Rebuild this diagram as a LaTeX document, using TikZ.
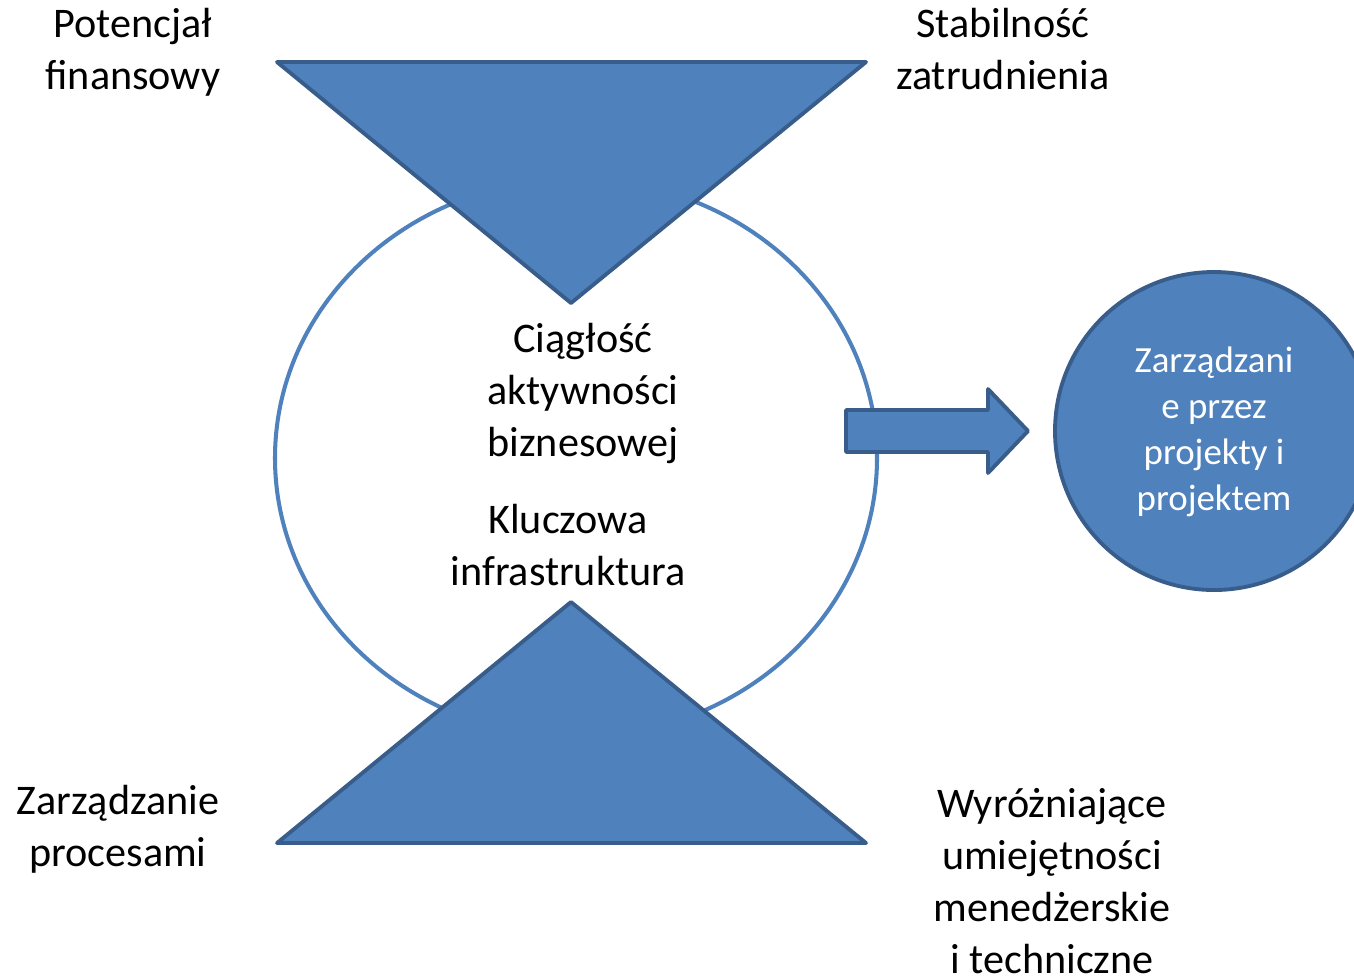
\documentclass[tikz,border=0pt]{standalone}
\usepackage{fontspec}
\setmainfont{Carlito}
\usepackage{tikz}

\definecolor{blok}{RGB}{79,129,189}
\definecolor{obrys}{RGB}{56,93,138}

\begin{document}
\begin{tikzpicture}[x=0.02cm, y=-0.02cm,
	opis/.style={align=center, font=\fontsize{24}{29.6}\selectfont},
	bryla/.style={fill=blok, draw=obrys, line width=2.2pt, line join=round}]
	\useasboundingbox (0,0) rectangle (1354,978);
	% the ring
	\draw[blok, line width=2.3pt] (576,458) ellipse [x radius=301, y radius=279];
	% the two triangles
	\draw[bryla] (277,62) -- (866,62) -- (571,303) -- cycle;
	\draw[bryla] (277,843) -- (866,843) -- (571,602) -- cycle;
	% the arrow
	\draw[bryla] (846,410) -- (988,410) -- (988,389) -- (1028,431) -- (988,473) -- (988,452) -- (846,452) -- cycle;
	\node (proj) at (1214,431) [circle, bryla, minimum size=318*0.02cm, inner sep=0pt] {};
		\node (projtxt) at (1214,432) [align=center, text=white, font=\fontsize{21}{26.2}\selectfont] {Zarządzani\\e przez\\projekty i\\projektem};
	\node (fin) at (133,52) [opis] {Potencjał\\finansowy};
	\node (stab) at (1003,49) [opis] {Stabilność\\zatrudnienia};
		\node (ciag) at (583,393) [opis] {Ciągłość\\aktywności\\biznesowej};
		\node (infra) at (568,545) [opis] {Kluczowa\\infrastruktura};
	\node (proc) at (118,829) [opis] {Zarządzanie\\procesami};
	\node (umie) at (1052,881) [opis] {Wyróżniające\\umiejętności\\menedżerskie\\i techniczne};
\end{tikzpicture}
\end{document}
